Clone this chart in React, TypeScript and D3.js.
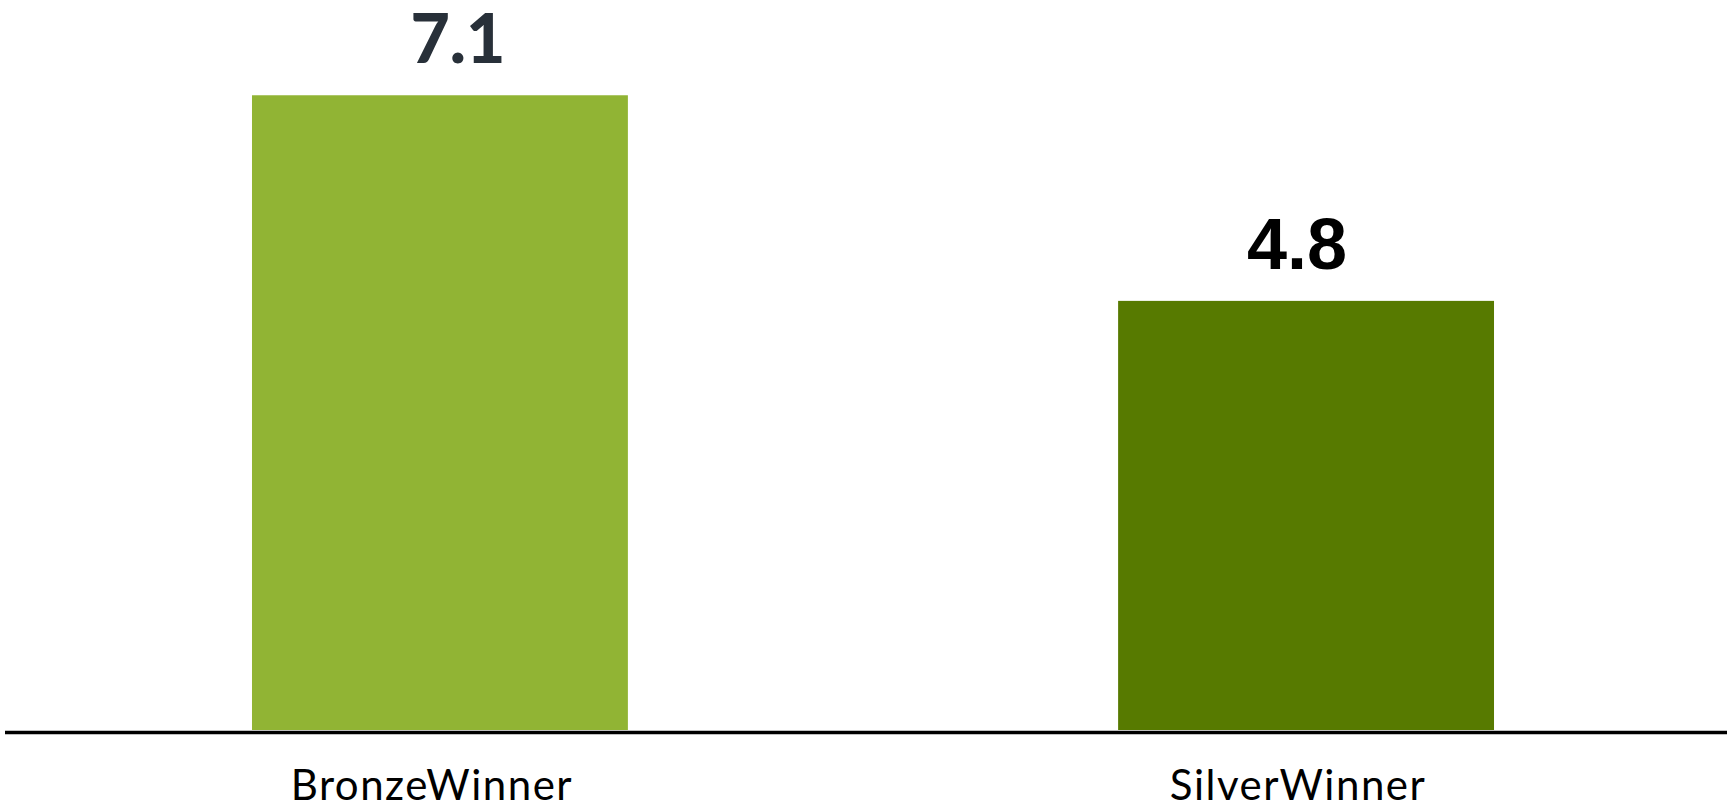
import React from "react";
import * as d3 from "d3";

const categories = ["BronzeWinner", "SilverWinner"];
const values = [7.1, 4.8];
const valueLabels = ["7.1", "4.8"];

const W = 1727;
const H = 803;

export default function App() {
  const x = d3
    .scaleBand<string>()
    .domain(categories)
    .range([19, 1727])
    .paddingInner(0.566)
    .paddingOuter(0.269);
  const y = d3.scaleLinear().domain([0, 8]).range([730, 730 - 8 * 89.4]);
  const colors = ["#91B434", "#577A00"];
  const labelStyles = [
    { fill: "#283039", fontFamily: "Lato, 'Open Sans', sans-serif", fontWeight: 900, fontSize: 68, dx: 18 },
    { fill: "#000000", fontFamily: "'Liberation Sans', Arial, sans-serif", fontWeight: 700, fontSize: 72, dx: -9 },
  ];
  return (
    <svg
      width={W}
      height={H}
      style={{ position: "absolute", left: 0, top: 0, display: "block", background: "#fff" }}
    >
      {categories.map((c, i) => (
        <rect
          key={c}
          x={x(c)!}
          y={y(values[i])}
          width={x.bandwidth()}
          height={y(0) - y(values[i])}
          fill={colors[i]}
        />
      ))}
      <line x1={5} x2={W} y1={732.5} y2={732.5} stroke="#000" strokeWidth={3.5} />
      {categories.map((c, i) => (
        <text
          key={"v" + c}
          x={x(c)! + x.bandwidth() / 2 + labelStyles[i].dx}
          y={y(values[i]) - 32}
          textAnchor="middle"
          fill={labelStyles[i].fill}
          fontFamily={labelStyles[i].fontFamily}
          fontWeight={labelStyles[i].fontWeight}
          fontSize={labelStyles[i].fontSize}
        >
          {valueLabels[i]}
        </text>
      ))}
      {categories.map((c) => (
        <text
          key={"c" + c}
          x={x(c)! + x.bandwidth() / 2 - 8}
          y={800}
          textAnchor="middle"
          fill="#000"
          fontFamily="Lato, 'Open Sans', sans-serif"
          fontSize={42}
          letterSpacing={1.5}
        >
          {c}
        </text>
      ))}
    </svg>
  );
}
